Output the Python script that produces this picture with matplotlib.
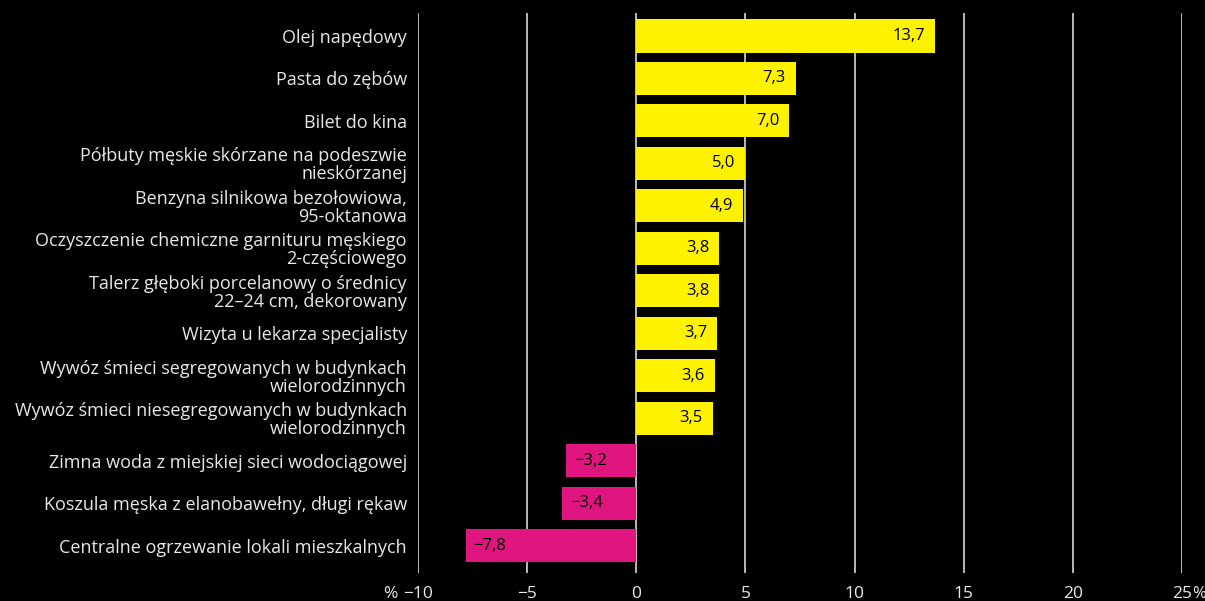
import matplotlib
matplotlib.use("Agg")
import matplotlib.pyplot as plt
from matplotlib.ticker import FixedLocator, FixedFormatter

# Data
categories = [
    "Olej napędowy",
    "Pasta do zębów",
    "Bilet do kina",
    "Półbuty męskie skórzane na podeszwie\nnieskórzanej",
    "Benzyna silnikowa bezołowiowa,\n95-oktanowa",
    "Oczyszczenie chemiczne garnituru męskiego\n2-częściowego",
    "Talerz głęboki porcelanowy o średnicy\n22–24 cm, dekorowany",
    "Wizyta u lekarza specjalisty",
    "Wywóz śmieci segregowanych w budynkach\nwielorodzinnych",
    "Wywóz śmieci niesegregowanych w budynkach\nwielorodzinnych",
    "Zimna woda z miejskiej sieci wodociągowej",
    "Koszula męska z elanobawełny, długi rękaw",
    "Centralne ogrzewanie lokali mieszkalnych",
]
values = [13.7, 7.3, 7.0, 5.0, 4.9, 3.8, 3.8, 3.7, 3.6, 3.5, -3.2, -3.4, -7.8]
x_ticks = [-10, -5, 0, 5, 10, 15, 20, 25]
x_tick_labels = ["−10", "−5", "0", "5", "10", "15", "20", "25"]

YELLOW = "#fff200"
PINK = "#e0157f"
TEXT = "#e8e8e8"
GRID = "#c8c8c8"

plt.rcParams["font.family"] = ["Open Sans", "DejaVu Sans"]

fig = plt.figure(figsize=(12.05, 6.01), dpi=100, facecolor="black")
ax = fig.add_axes([418 / 1205, 1 - 573 / 601, 764 / 1205, 560 / 601])
ax.set_facecolor("black")

pos = list(range(len(categories)))
colors = [YELLOW if v >= 0 else PINK for v in values]
ax.barh(pos, values, height=0.78, color=colors, zorder=3)

for p, v in zip(pos, values):
    txt = f"{v:.1f}".replace(".", ",").replace("-", "−")
    if v >= 0:
        ax.text(v - 0.45, p, txt, ha="right", va="center", fontsize=12,
                color="black", zorder=4)
    else:
        ax.text(v + 0.35, p, txt, ha="left", va="center", fontsize=12,
                color="black", zorder=4)

ax.set_xlim(-10, 25)
ax.set_ylim(len(categories) - 1 + 0.64, -0.54)

ax.xaxis.set_major_locator(FixedLocator(x_ticks))
ax.xaxis.set_major_formatter(FixedFormatter(x_tick_labels))
ax.set_yticks(pos)
ax.set_yticklabels(categories)

ax.grid(axis="x", color=GRID, linewidth=1.3, zorder=1)
ax.tick_params(axis="x", length=0, pad=9, labelsize=12.5, colors=TEXT)
ax.tick_params(axis="y", length=0, pad=8, labelsize=13, colors=TEXT)
for lbl in ax.get_yticklabels():
    lbl.set_horizontalalignment("right")
    lbl.set_linespacing(0.98)

# percent sign hanging off the first and last tick labels
trans = ax.get_xaxis_transform()
ax.annotate("%", xy=(x_ticks[0], 0), xycoords=trans, xytext=(-14.5, -9),
            textcoords="offset points", ha="right", va="top",
            fontsize=12.5, color=TEXT, annotation_clip=False)
ax.annotate("%", xy=(x_ticks[-1], 0), xycoords=trans, xytext=(7, -9),
            textcoords="offset points", ha="left", va="top",
            fontsize=12, color=TEXT, annotation_clip=False)

for s in ax.spines.values():
    s.set_visible(False)

fig.savefig("out.png", dpi=100, facecolor="black")
